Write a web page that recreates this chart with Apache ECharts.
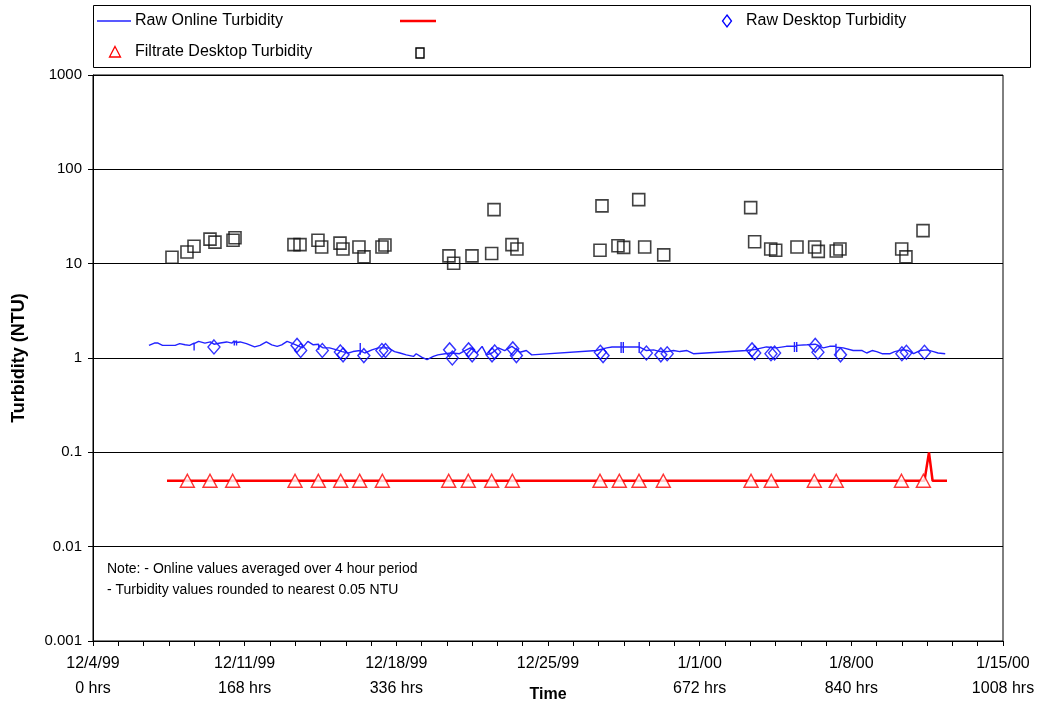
<!DOCTYPE html>
<html>
<head>
<meta charset="utf-8">
<script src="https://cdn.jsdelivr.net/npm/echarts@6/dist/echarts.min.js"></script>
<style>
html,body{margin:0;padding:0;background:#fff;}
#chart{width:1040px;height:706px;}
</style>
</head>
<body>
<div id="chart"></div>
<script>
// ---------- DATA ----------
const dateLabels = ['12/4/99','12/11/99','12/18/99','12/25/99','1/1/00','1/8/00','1/15/00'];
const hourLabels = ['0 hrs','168 hrs','336 hrs','','672 hrs','840 hrs','1008 hrs'];
const yTickLabels = ['0.001','0.01','0.1','1','10','100','1000'];

// Raw online turbidity (4-hr averages), [hours, NTU]
const rawOnline = [
  [62,1.36],[68,1.44],[72,1.44],[77,1.36],[91,1.36],[96,1.42],[102,1.38],[107,1.36],
  [112,1.44],[112,1.50],[112,1.20],[112,1.42],[117,1.50],[124,1.44],[130,1.48],[134,1.40],
  [141,1.44],[148,1.48],[154,1.44],[156.5,1.52],[156.5,1.36],[156.5,1.44],[159,1.52],[159,1.36],
  [159,1.46],[163,1.48],[170,1.42],[179,1.31],[185,1.36],[192,1.48],[198,1.38],[204,1.33],
  [209,1.38],[215,1.50],[220,1.44],[226,1.36],[232,1.28],[238,1.50],[244,1.38],[250,1.40],
  [250,1.42],[250,1.22],[250,1.36],[255,1.28],[262,1.28],[270,1.22],[276,1.17],[283,1.13],
  [288,1.17],[296,1.20],[296,1.44],[296,1.08],[296,1.20],[301,1.13],[309,1.22],[316,1.28],
  [327,1.28],[334,1.17],[340,1.13],[347,1.08],[355,1.04],[358,1.11],[364,1.02],[370,0.96],
  [377,1.04],[382,1.08],[390,1.11],[397,1.13],[406,1.11],[412,1.20],[418,1.28],[425,1.13],
  [431,1.33],[436,1.08],[442,1.13],[449,1.28],[456,1.20],[464,1.33],[473,1.15],[480,1.20],
  [486,1.08],[558,1.20],[569,1.28],[575,1.31],[585,1.31],[585,1.48],[585,1.13],[585,1.31],
  [587.4,1.31],[587.4,1.48],[587.4,1.13],[587.4,1.31],[595,1.31],[605,1.31],[605,1.48],[605,1.13],
  [605,1.31],[613,1.20],[621,1.22],[628,1.17],[636,1.17],[643,1.20],[650,1.17],[658,1.20],
  [665,1.11],[724,1.20],[735,1.24],[746,1.31],[757,1.28],[768,1.33],[777,1.33],[777,1.48],
  [777,1.16],[777,1.33],[779.5,1.33],[779.5,1.48],[779.5,1.16],[779.5,1.36],[791,1.38],[800,1.40],
  [809,1.28],[816,1.33],[823,1.33],[823,1.42],[823,1.04],[823,1.30],[831,1.28],[842,1.20],
  [852,1.20],[857,1.13],[863,1.20],[868,1.17],[874,1.11],[883,1.11],[888,1.17],[896,1.22],
  [903,1.20],[909,1.11],[916,1.20],[924,1.22],[931,1.17],[936,1.13],[944,1.11]
];

// Filtrate online turbidity (unlabelled red line), [hours, NTU]
const filtrateOnline = [[82,0.05],[921,0.05],[926,0.1],[930,0.05],[946,0.05]];

// Raw desktop turbidity (blue diamonds), [hours, NTU]
const rawDesktop = [
  [134,1.31],[226,1.36],[230,1.20],[254,1.20],[274,1.16],[277,1.08],[300,1.06],[320,1.20],
  [324,1.20],[395,1.22],[398,1.00],[416,1.22],[420,1.08],[442,1.08],[445,1.16],[465,1.25],
  [469,1.06],[562,1.15],[565,1.06],[613,1.13],[629,1.08],[636,1.11],[730,1.22],[733,1.13],
  [751,1.11],[755,1.13],[800,1.36],[803,1.15],[828,1.08],[896,1.11],[901,1.15],[921,1.15]
];

// Filtrate desktop turbidity (red triangles), [hours, NTU]
const filtrateDesktop = [
  [104.5,0.05],[129.6,0.05],[154.7,0.05],[223.8,0.05],[249.6,0.05],[274.4,0.05],[295.4,0.05],
  [320.5,0.05],[394.0,0.05],[415.7,0.05],[441.6,0.05],[464.5,0.05],[561.6,0.05],[583.0,0.05],
  [604.8,0.05],[631.7,0.05],[728.9,0.05],[751.3,0.05],[799.0,0.05],[823.3,0.05],[895.5,0.05],
  [919.8,0.05]
];

// Unlabelled desktop series (black squares), [hours, NTU]
const squareDesktop = [
  [87.5,11.7],[104.1,13.3],[111.9,15.3],[129.6,18.2],[135.1,16.9],[155.1,17.7],[157.3,18.8],
  [222.6,15.9],[229.3,15.9],[249.2,17.7],[253.3,15.0],[273.6,16.5],[276.9,14.3],[294.6,15.0],
  [300.2,11.8],[320.1,15.0],[323.4,15.8],[394.3,12.1],[399.5,10.1],[419.8,12.1],[441.6,12.8],
  [444.2,37.4],[464.1,15.9],[469.6,14.3],[561.6,13.9],[563.8,41.0],[581.5,15.5],[587.8,14.9],
  [604.5,47.7],[611.1,15.0],[632.2,12.4],[728.5,39.3],[732.9,17.1],[750.7,14.3],[756.2,13.9],
  [779.8,15.0],[799.4,15.0],[803.4,13.5],[823.3,13.6],[827.4,14.3],[895.8,14.3],[900.5,11.8],
  [919.4,22.4]
];

// ---------- CHART ----------
const FONT = '"Liberation Sans", Arial, sans-serif';
const chart = echarts.init(document.getElementById('chart'), null, {renderer: 'canvas'});

const option = {
  backgroundColor: '#ffffff',
  animation: false,
  grid: {left: 93, right: 37, top: 75, bottom: 65, containLabel: false, outerBoundsMode: 'none',
         show: true, borderColor: '#000', borderWidth: 1, backgroundColor: 'transparent'},
  xAxis: {
    type: 'value', min: 0, max: 1008, interval: 168,
    name: 'Time', nameLocation: 'middle', nameGap: 46, nameMoveOverlap: false,
    nameTextStyle: {fontFamily: FONT, fontSize: 16, fontWeight: 'bold', color: '#000'},
    axisLine: {show: true, onZero: false, lineStyle: {color: '#000', width: 1}},
    axisTick: {show: true, inside: false, length: 5, lineStyle: {color: '#000'}},
    minorTick: {show: true, splitNumber: 6, length: 5, lineStyle: {color: '#000'}},
    splitLine: {show: false},
    axisLabel: {
      fontFamily: FONT, fontSize: 16, color: '#000', margin: 10, lineHeight: 25,
      formatter: function (v) { const i = Math.round(v / 168); return dateLabels[i] + '\n' + hourLabels[i]; }
    }
  },
  yAxis: {
    type: 'log', logBase: 10, min: 0.001, max: 1000,
    name: 'Turbidity (NTU)', nameLocation: 'middle', nameGap: 65, nameRotate: 90, nameMoveOverlap: false,
    nameTextStyle: {fontFamily: FONT, fontSize: 18, fontWeight: 'bold', color: '#000'},
    axisLine: {show: true, lineStyle: {color: '#000', width: 1}},
    axisTick: {show: true, inside: false, length: 5, lineStyle: {color: '#000'}},
    splitLine: {show: true, lineStyle: {color: '#000', width: 1}},
    axisLabel: {
      fontFamily: FONT, fontSize: 15, color: '#000', margin: 11,
      formatter: function (v) { const i = Math.round(Math.log10(v)) + 3; return yTickLabels[i]; }
    }
  },
  series: [
    {
      name: 'Filtrate Online Turbidity', type: 'line', data: filtrateOnline,
      showSymbol: false, symbol: 'none', lineStyle: {color: '#ff0000', width: 2.5}, z: 2
    },
    {
      name: 'Raw Desktop Turbidity', type: 'scatter', data: rawDesktop,
      symbol: 'diamond', symbolSize: [12, 14],
      itemStyle: {color: 'rgba(0,0,0,0)', borderColor: '#0000ff', borderWidth: 1.4}, z: 3
    },
    {
      name: 'Raw Online Turbidity', type: 'line', data: rawOnline,
      showSymbol: false, symbol: 'none', lineStyle: {color: '#2222ff', width: 1.4}, z: 4
    },
    {
      name: 'Filtrate Desktop Turbidity', type: 'scatter', data: filtrateDesktop,
      symbol: 'triangle', symbolSize: [14, 13],
      itemStyle: {color: '#ffffff', borderColor: '#ff0000', borderWidth: 1.4}, z: 5
    },
    {
      name: 'Desktop Turbidity (squares)', type: 'scatter', data: squareDesktop,
      symbol: 'rect', symbolSize: [12, 12],
      itemStyle: {color: 'rgba(0,0,0,0)', borderColor: '#111', borderWidth: 1.6}, z: 5
    }
  ],
  graphic: [
    {type: 'rect', shape: {x: 93.5, y: 5.5, width: 937, height: 62}, style: {fill: '#fff', stroke: '#000', lineWidth: 1}, z: 10},
    {type: 'line', shape: {x1: 97, y1: 21, x2: 131, y2: 21}, style: {stroke: '#2222ff', lineWidth: 1.4}, z: 11},
    {type: 'text', x: 135, y: 21, style: {text: 'Raw Online Turbidity', font: '16px ' + FONT, fill: '#000', verticalAlign: 'middle'}, z: 11},
    {type: 'line', shape: {x1: 400, y1: 21, x2: 436, y2: 21}, style: {stroke: '#ff0000', lineWidth: 2.5}, z: 11},
    {type: 'polygon', shape: {points: [[727, 15], [731.5, 21], [727, 27], [722.5, 21]]}, style: {fill: 'none', stroke: '#0000ff', lineWidth: 1.3}, z: 11},
    {type: 'text', x: 746, y: 21, style: {text: 'Raw Desktop Turbidity', font: '16px ' + FONT, fill: '#000', verticalAlign: 'middle'}, z: 11},
    {type: 'polygon', shape: {points: [[115, 46.5], [120.5, 57], [109.5, 57]]}, style: {fill: 'none', stroke: '#ff0000', lineWidth: 1.3}, z: 11},
    {type: 'text', x: 135, y: 52, style: {text: 'Filtrate Desktop Turbidity', font: '16px ' + FONT, fill: '#000', verticalAlign: 'middle'}, z: 11},
    {type: 'rect', shape: {x: 416, y: 48, width: 8, height: 10}, style: {fill: 'none', stroke: '#000', lineWidth: 1.4}, z: 11},
    {type: 'text', x: 107, y: 569, style: {text: 'Note: - Online values averaged over 4 hour period', font: '14px ' + FONT, fill: '#000', verticalAlign: 'middle'}, z: 11},
    {type: 'text', x: 107, y: 590, style: {text: '- Turbidity values rounded to nearest 0.05 NTU', font: '14px ' + FONT, fill: '#000', verticalAlign: 'middle'}, z: 11}
  ]
};
chart.setOption(option);
</script>
</body>
</html>
